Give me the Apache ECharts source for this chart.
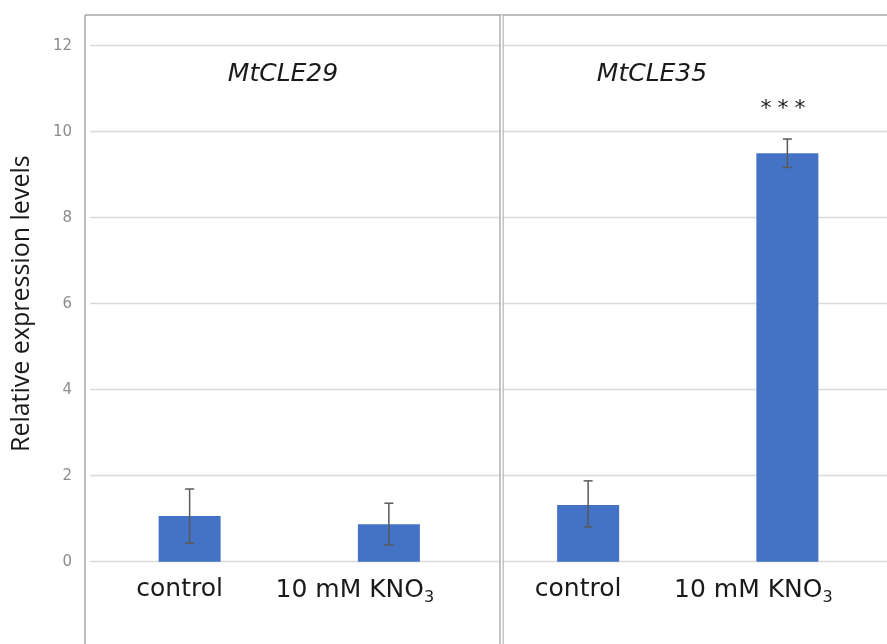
<!DOCTYPE html>
<html>
<head>
<meta charset="utf-8">
<script src="https://cdn.jsdelivr.net/npm/echarts@6/dist/echarts.min.js"></script>
<style>
  html, body { margin: 0; padding: 0; background: #fff; }
  #chart { width: 887px; height: 644px; }
</style>
</head>
<body>
<div id="chart"></div>
<script>
// groups of bars, left panel MtCLE29, right panel MtCLE35
const categories = ['control', 'KNO3', 'control', 'KNO3'];
const means = [1.06, 0.87, 1.32, 9.5];
const errLow = [0.43, 0.39, 0.81, 9.17];
const errHigh = [1.69, 1.36, 1.88, 9.83];
const yTicks = [0, 2, 4, 6, 8, 10, 12];
const panelTitles = ['MtCLE29', 'MtCLE35'];

const chart = echarts.init(document.getElementById('chart'), null, { renderer: 'canvas' });

const wideFont = '"DejaVu Sans", sans-serif';
const titleFont = '"Open Sans", sans-serif';
const frameColor = '#a6a6a6';
const ink = '#1a1a1a';

const option = {
  animation: false,
  backgroundColor: '#fff',
  grid: {
    left: 90,
    right: -1,
    top: 45.7,
    bottom: 82.3,
    containLabel: false
  },
  xAxis: {
    type: 'category',
    data: categories,
    axisLine: { show: false },
    axisTick: { show: false },
    axisLabel: {
      interval: 0,
      margin: 13,
      color: ink,
      fontFamily: wideFont,
      formatter: v => v === 'control'
        ? '{c|control}{g|}'
        : '{c|10 mM KNO}{s|3}{h|}',
      rich: {
        c: { fontSize: 25, fontFamily: wideFont, color: ink, lineHeight: 30 },
        s: { fontSize: 16, fontFamily: wideFont, color: ink, padding: [15, 0, 0, 0] },
        g: { width: 20 },
        h: { width: 68 }
      }
    }
  },
  yAxis: {
    type: 'value',
    min: 0,
    max: 12,
    interval: 2,
    name: 'Relative expression levels',
    nameLocation: 'middle',
    nameGap: 56,
    nameTextStyle: { fontSize: 25, fontFamily: titleFont, color: ink },
    axisLine: { show: false },
    axisTick: { show: false },
    axisLabel: {
      margin: 18,
      fontSize: 15,
      fontFamily: wideFont,
      color: '#8c8c8c',
      formatter: v => yTicks.includes(v) ? String(v) : ''
    },
    splitLine: { lineStyle: { color: '#d9d9d9', width: 1.3 } }
  },
  series: [
    {
      type: 'bar',
      data: means,
      barWidth: 62,
      itemStyle: { color: '#4472c4' }
    },
    {
      type: 'custom',
      data: means.map((m, i) => [i, errLow[i], errHigh[i]]),
      z: 5,
      renderItem: (params, api) => {
        const lo = api.coord([api.value(0), api.value(1)]);
        const hi = api.coord([api.value(0), api.value(2)]);
        const cap = 4.5;
        const style = { stroke: '#595959', lineWidth: 1.5 };
        return {
          type: 'group',
          children: [
            { type: 'line', shape: { x1: hi[0], y1: hi[1], x2: lo[0], y2: lo[1] }, style },
            { type: 'line', shape: { x1: hi[0] - cap, y1: hi[1], x2: hi[0] + cap, y2: hi[1] }, style },
            { type: 'line', shape: { x1: lo[0] - cap, y1: lo[1], x2: lo[0] + cap, y2: lo[1] }, style }
          ]
        };
      }
    }
  ],
  graphic: [
    // panel frames
    { type: 'line', shape: { x1: 85, y1: 15, x2: 887, y2: 15 }, style: { stroke: frameColor, lineWidth: 1.5 }, z: 10 },
    { type: 'line', shape: { x1: 85, y1: 15, x2: 85, y2: 644 }, style: { stroke: frameColor, lineWidth: 1.5 }, z: 10 },
    { type: 'line', shape: { x1: 500, y1: 15, x2: 500, y2: 644 }, style: { stroke: frameColor, lineWidth: 1.3 }, z: 10 },
    { type: 'line', shape: { x1: 503, y1: 15, x2: 503, y2: 644 }, style: { stroke: frameColor, lineWidth: 1.3 }, z: 10 },
    { type: 'rect', shape: { x: 501, y: 15, width: 1.5, height: 629 }, style: { fill: '#fff' }, z: 10 },
    // panel titles and significance
    {
      type: 'text', x: 283, y: 74, z: 11,
      style: { text: panelTitles[0], font: 'italic 25px "DejaVu Sans", sans-serif', fill: ink, align: 'center', verticalAlign: 'middle' }
    },
    {
      type: 'text', x: 652, y: 74, z: 11,
      style: { text: panelTitles[1], font: 'italic 25px "DejaVu Sans", sans-serif', fill: ink, align: 'center', verticalAlign: 'middle' }
    },
    {
      type: 'text', x: 783, y: 109, z: 11,
      style: {
        text: '{a|*}{a|*}{a|*}',
        align: 'center', verticalAlign: 'middle',
        rich: { a: { font: '22px "DejaVu Sans", sans-serif', fill: ink, padding: [0, 3, 0, 3] } }
      }
    }
  ]
};

chart.setOption(option);
</script>
</body>
</html>
